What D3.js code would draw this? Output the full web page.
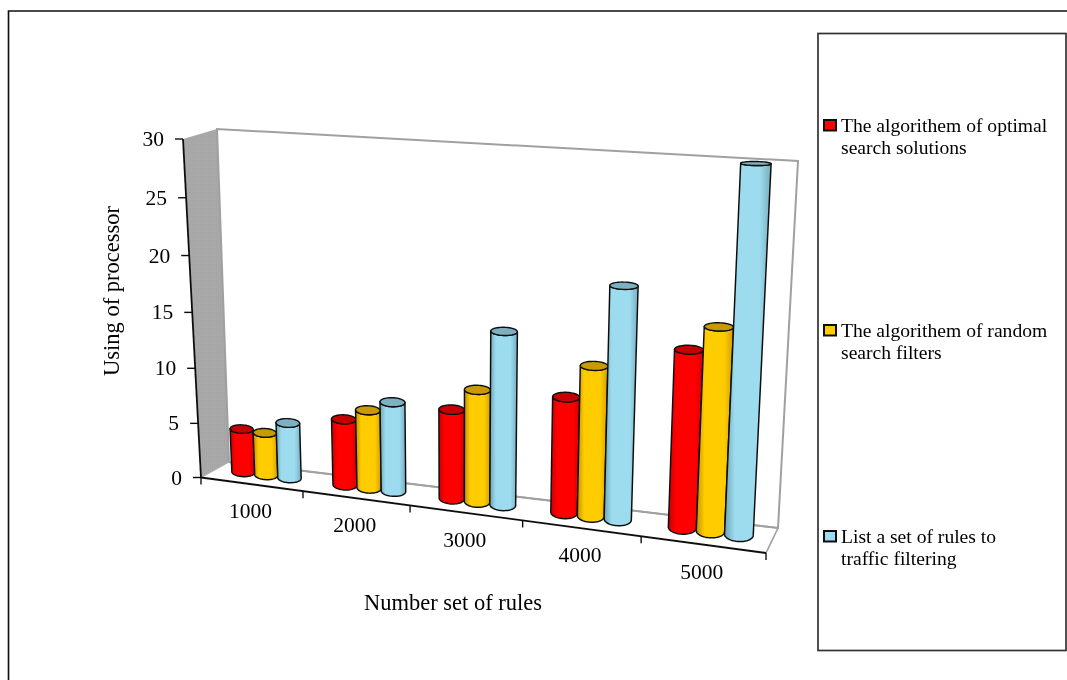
<!DOCTYPE html>
<html lang="en">
  <head>
    <meta charset="utf-8">
    <title>Using of processor</title>
    <script src="https://cdn.jsdelivr.net/npm/d3@7"></script>
    <style>
      html, body { margin: 0; padding: 0; background: #fff; }
      svg { display: block; }
      text { font-family: "Liberation Serif", serif; fill: #000; }
    </style>
  </head>
  <body>
    <script>

    var w = 1067;
    var h = 680;

    var categories = ["1000", "2000", "3000", "4000", "5000"];
    var seriesNames = ["optimal", "random", "list"];
    var optimal = [4.0, 5.95, 7.85, 9.95, 14.85];
    var random = [3.9, 7.0, 9.8, 12.8, 16.9];
    var list = [5.05, 7.95, 15, 19.6, 29.9];
    var seriesValues = [optimal, random, list];
    var yTicks = [0, 5, 10, 15, 20, 25, 30];
    var legendLines = [
      ["The algorithem of optimal", "search solutions"],
      ["The algorithem of random", "search filters"],
      ["List a set of rules to", "traffic filtering"]
    ];

    var bodyColors = [
      ["#c80000", "#ff0000", "#ff0000", "#d80000"],
      ["#c29200", "#ffcc00", "#ffcc00", "#cf9f00"],
      ["#6da3b4", "#9cdcee", "#9cdcee", "#76adbf"]
    ];
    var capColors = ["#c40000", "#c99a00", "#7db1c1"];

    // the eight corners of the chart box as they land on the page
    // f = front, b = back, l = left, r = right, 0 = floor, 1 = top
    var box = {
      fl0: [201, 477.5], fr0: [766, 553], bl0: [229, 462], br0: [778, 528],
      fl1: [183, 139], fr1: [784, 168], bl1: [217, 129], br1: [798, 161]
    };

    var perspectiveX = 1.135;  // the categories get wider to the right
    var perspectiveY = 1.05;   // the value steps get taller going up
    var barDepth = 0.56;
    var barRadiusDepth = 0.28;
    var ringTilt = 0.3;        // how much of the floor slope the rings follow

    var xBand = d3.scaleBand().domain(categories).range([0, 1]).paddingInner(0.31).paddingOuter(0.155);
    var xInner = d3.scaleBand().domain(seriesNames).range([0, xBand.bandwidth()]);
    var yScale = d3.scaleLinear().domain([0, 30]).range([0, 1]);

    function mix(a, b, t) {
      return [a[0] + (b[0] - a[0]) * t, a[1] + (b[1] - a[1]) * t];
    }

    function warp(t, a) {
      return t / (a - (a - 1) * t);
    }

    // u along the categories, d into the depth, v up the value axis, all 0 to 1
    function project(u, d, v) {
      var s = warp(u, perspectiveX);
      var t = warp(v, perspectiveY);
      var front = mix(mix(box.fl0, box.fr0, s), mix(box.fl1, box.fr1, s), t);
      var back = mix(mix(box.bl0, box.br0, s), mix(box.bl1, box.br1, s), t);
      return mix(front, back, d);
    }

    var line = d3.line();

    var svg = d3.select("body").append("svg").attr("width", w).attr("height", h);
    var defs = svg.append("defs");

    // the reference is a soft scan, so everything gets a very light blur
    defs.append("filter").attr("id", "soft")
      .attr("x", 0).attr("y", 0)
      .attr("filterUnits", "userSpaceOnUse")
      .attr("width", w).attr("height", h)
      .append("feGaussianBlur").attr("stdDeviation", 0.4);

    bodyColors.forEach(function(c, i) {
      var grad = defs.append("linearGradient").attr("id", "body" + i);
      [0, 0.22, 0.75, 1].forEach(function(o, j) {
        grad.append("stop").attr("offset", o).attr("stop-color", c[j]);
      });
    });

    var shade = defs.append("pattern").attr("id", "wallShade")
      .attr("width", 2).attr("height", 2).attr("patternUnits", "userSpaceOnUse");
    shade.append("rect").attr("width", 2).attr("height", 2).attr("fill", "#a9a9a9");
    shade.append("rect").attr("width", 1).attr("height", 1).attr("fill", "#a3a3a3");

    var root = svg.append("g").attr("filter", "url(#soft)");

    // outer frame
    root.append("path")
      .attr("d", line([[8.5, 680], [8.5, 11], [1067, 11]]))
      .attr("fill", "none").attr("stroke", "#111").attr("stroke-width", 1.6);

    // walls and floor
    root.append("path")
      .attr("d", line([box.fl0, box.fl1, box.bl1, box.bl0]) + "Z")
      .attr("fill", "url(#wallShade)").attr("stroke", "none");
    root.append("path")
      .attr("d", line([box.bl0, box.bl1, box.br1, box.br0]) + "Z")
      .attr("fill", "#fff").attr("stroke", "#a0a0a0").attr("stroke-width", 2);
    root.append("path")
      .attr("d", line([box.bl0, box.br0, box.fr0]))
      .attr("fill", "none").attr("stroke", "#a0a0a0").attr("stroke-width", 1.6);
    root.append("path")
      .attr("d", line([box.fl0, box.bl0]))
      .attr("fill", "none").attr("stroke", "#b0b0b0").attr("stroke-width", 1.2);

    // value axis
    root.append("path")
      .attr("d", line([box.fl0, box.fl1]))
      .attr("fill", "none").attr("stroke", "#111").attr("stroke-width", 1.8);
    var yTick = root.selectAll(".ytick").data(yTicks).enter().append("g").attr("class", "ytick");
    yTick.append("path")
      .attr("d", function(d) {
        var p = project(0, 0, yScale(d));
        return line([p, [p[0] - 8, p[1]]]);
      })
      .attr("stroke", "#111").attr("stroke-width", 1.4);
    yTick.append("text")
      .attr("x", function(d) { return project(0, 0, yScale(d))[0] - 19; })
      .attr("y", function(d) { return project(0, 0, yScale(d))[1] + 7; })
      .attr("text-anchor", "end")
      .attr("font-size", 21.5)
      .text(function(d) { return d; });

    // category axis
    root.append("path")
      .attr("d", line([box.fl0, box.fr0]))
      .attr("fill", "none").attr("stroke", "#111").attr("stroke-width", 1.8);
    var xEdges = [0].concat(categories.map(function(c, i) { return (i + 1) / categories.length; }));
    root.selectAll(".xtick").data(xEdges).enter().append("path")
      .attr("class", "xtick")
      .attr("d", function(u) {
        var p = project(u, 0, 0);
        return line([p, [p[0], p[1] + 7]]);
      })
      .attr("stroke", "#111").attr("stroke-width", 1.4);
    root.selectAll(".xlabel").data(categories).enter().append("text")
      .attr("class", "xlabel")
      .attr("x", function(d) { return project(xBand(d) + xBand.bandwidth() / 2, 0, 0)[0] - 1; })
      .attr("y", function(d) { return project(xBand(d) + xBand.bandwidth() / 2, 0, 0)[1] + 34; })
      .attr("text-anchor", "middle")
      .attr("font-size", 21.5)
      .text(function(d) { return d; });

    // cylinders, one group at a time, left to right
    // the depth only squashes the ring vertically, it does not shear it sideways
    function ringPoint(cx, r, v, a) {
      var c = project(cx, barDepth, v);
      var side = project(cx + r, barDepth, v);
      var back = project(cx, barDepth + barRadiusDepth, v);
      return [
        c[0] + (side[0] - c[0]) * Math.cos(a),
        c[1] + ringTilt * (side[1] - c[1]) * Math.cos(a) + (back[1] - c[1]) * Math.sin(a)
      ];
    }

    function frontArc(cx, r, v) {
      return d3.range(0, 33).map(function(i) {
        return ringPoint(cx, r, v, Math.PI + i / 32 * Math.PI);
      });
    }

    function fullRing(cx, r, v) {
      return d3.range(0, 48).map(function(i) {
        return ringPoint(cx, r, v, i / 48 * 2 * Math.PI);
      });
    }

    categories.forEach(function(cat, c) {
      seriesNames.forEach(function(name, s) {
        var value = seriesValues[s][c];
        var r = xInner.bandwidth() / 2;
        var cx = xBand(cat) + xInner(name) + r;
        var v = yScale(value);

        var bottom = frontArc(cx, r, 0);
        var top = frontArc(cx, r, v).reverse();
        var bar = root.append("g").attr("class", "bar");
        bar.append("path")
          .attr("d", line(bottom.concat(top)) + "Z")
          .attr("fill", "url(#body" + s + ")")
          .attr("stroke", "#111").attr("stroke-width", 1.5).attr("stroke-linejoin", "round");
        bar.append("path")
          .attr("d", line(fullRing(cx, r, v)) + "Z")
          .attr("fill", capColors[s])
          .attr("stroke", "#111").attr("stroke-width", 1.4);
      });
    });

    // axis titles
    root.append("text")
      .attr("x", 453).attr("y", 610)
      .attr("text-anchor", "middle").attr("font-size", 22.5)
      .text("Number set of rules");
    root.append("text")
      .attr("transform", "translate(119,291) rotate(-90)")
      .attr("text-anchor", "middle").attr("font-size", 22.5)
      .text("Using of processor");

    // legend
    root.append("rect")
      .attr("x", 818).attr("y", 33.5).attr("width", 248).attr("height", 617)
      .attr("fill", "#fff").attr("stroke", "#333").attr("stroke-width", 1.7);

    var legendY = [132, 337, 543];
    var legend = root.selectAll(".legend").data(legendLines).enter().append("g").attr("class", "legend");
    legend.append("rect")
      .attr("x", 824).attr("y", function(d, i) { return legendY[i] - 12; })
      .attr("width", 12).attr("height", 10.5)
      .attr("fill", function(d, i) { return bodyColors[i][1]; })
      .attr("stroke", "#111").attr("stroke-width", 2);
    legend.append("text")
      .attr("x", 841).attr("y", function(d, i) { return legendY[i]; })
      .attr("font-size", 19.6)
      .text(function(d) { return d[0]; });
    legend.append("text")
      .attr("x", 841).attr("y", function(d, i) { return legendY[i] + 21.5; })
      .attr("font-size", 19.6)
      .text(function(d) { return d[1]; });

    </script>
  </body>
</html>
